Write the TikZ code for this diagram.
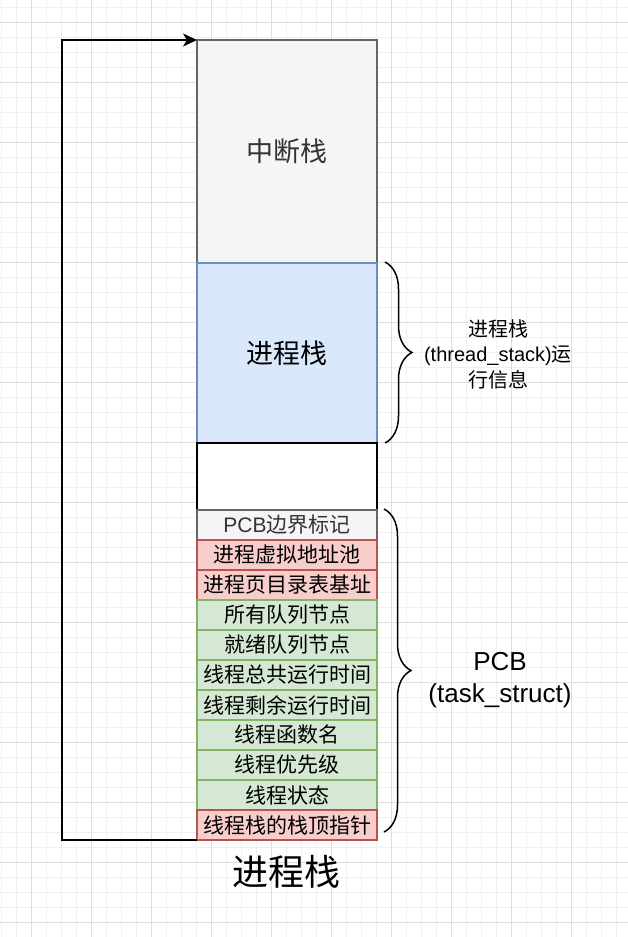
\documentclass[tikz,border=0pt]{standalone}
\usepackage{fontspec}
\setmainfont{Noto Sans CJK SC}
\newfontfamily\lat{Liberation Sans}
\usetikzlibrary{decorations.pathreplacing,arrows.meta}
\definecolor{gminor}{HTML}{F0F0F0}
\definecolor{gmajor}{HTML}{DEDEDE}
\definecolor{grayfill}{HTML}{F5F5F5}
\definecolor{graystroke}{HTML}{666666}
\definecolor{graytext}{HTML}{333333}
\definecolor{bluefill}{HTML}{DAE8FC}
\definecolor{bluestroke}{HTML}{6C8EBF}
\definecolor{redfill}{HTML}{F8CECC}
\definecolor{redstroke}{HTML}{B85450}
\definecolor{greenfill}{HTML}{D5E8D4}
\definecolor{greenstroke}{HTML}{82B366}
\tikzset{
  box/.style={draw, line width=1.5pt, minimum width=180pt, inner sep=0pt, outer sep=0pt},
  row/.style={box, minimum height=30pt, font=\fontsize{21}{24}\selectfont},
  grayrow/.style={row, fill=grayfill, draw=graystroke, text=graytext},
  redrow/.style={row, fill=redfill, draw=redstroke},
  greenrow/.style={row, fill=greenfill, draw=greenstroke},
  bracestyle/.style={decorate, decoration={brace, amplitude=27pt}, line width=1.5pt},
  conn/.style={line width=1.5pt, -{Stealth[length=14pt,width=13pt,inset=4pt]}},
}
\begin{document}
\begin{tikzpicture}[x=1pt,y=-1pt]
\useasboundingbox (0,0) rectangle (628,937);
\fill[white] (0,0) rectangle (628,937);
% grid
\foreach \i in {0,...,41} \draw[gminor, line width=1pt] (1.7+15*\i,0) -- (1.7+15*\i,937);
\foreach \i in {0,...,62} \draw[gminor, line width=1pt] (0,7+15*\i) -- (628,7+15*\i);
\foreach \i in {0,...,10} \draw[gmajor, line width=1pt] (31.7+60*\i,0) -- (31.7+60*\i,937);
\foreach \i in {0,...,15} \draw[gmajor, line width=1pt] (0,22+60*\i) -- (628,22+60*\i);

% stack boxes
\node[box, minimum height=223pt, fill=grayfill, draw=graystroke, text=graytext, font=\fontsize{27}{30}\selectfont] (intr) at (287,151.5) {中断栈};
\node[box, minimum height=180pt, fill=bluefill, draw=bluestroke, font=\fontsize{27}{30}\selectfont] (pstack) at (287,353) {进程栈};
\node[box, minimum height=67pt, fill=white, draw=black] (gap) at (287,476.5) {};

% PCB rows
\node[grayrow] (r1) at (287,525) {{\lat PCB}边界标记};
\node[redrow] (r2) at (287,555) {进程虚拟地址池};
\node[redrow] (r3) at (287,585) {进程页目录表基址};
\node[greenrow] (r4) at (287,615) {所有队列节点};
\node[greenrow] (r5) at (287,645) {就绪队列节点};
\node[greenrow] (r6) at (287,675) {线程总共运行时间};
\node[greenrow] (r7) at (287,705) {线程剩余运行时间};
\node[greenrow] (r8) at (287,735) {线程函数名};
\node[greenrow] (r9) at (287,765) {线程优先级};
\node[greenrow] (r10) at (287,795) {线程状态};
\node[redrow] (r11) at (287,825) {线程栈的栈顶指针};

% connector
\draw[conn] (r11.south west) -- ++(-135,0) |- (intr.north west);

% braces
\draw[bracestyle] ([xshift=8pt,yshift=1pt]pstack.north east) -- ([xshift=8pt]pstack.south east);
\draw[bracestyle] ([xshift=7pt,yshift=1pt]r1.north east) -- ([xshift=7pt,yshift=8pt]r11.south east);

% labels
\node[align=center, font=\fontsize{20}{25.5}\selectfont] (lbl1) at (498,354) {进程栈\\{\lat (thread\_stack)}运\\行信息};
\node[align=center, font=\fontsize{26}{32}\selectfont\lat] (lbl2) at (500,680) {PCB\\(task\_struct)};
\node[font=\fontsize{36}{40}\selectfont] (title) at (286,872) {进程栈};
\end{tikzpicture}
\end{document}
